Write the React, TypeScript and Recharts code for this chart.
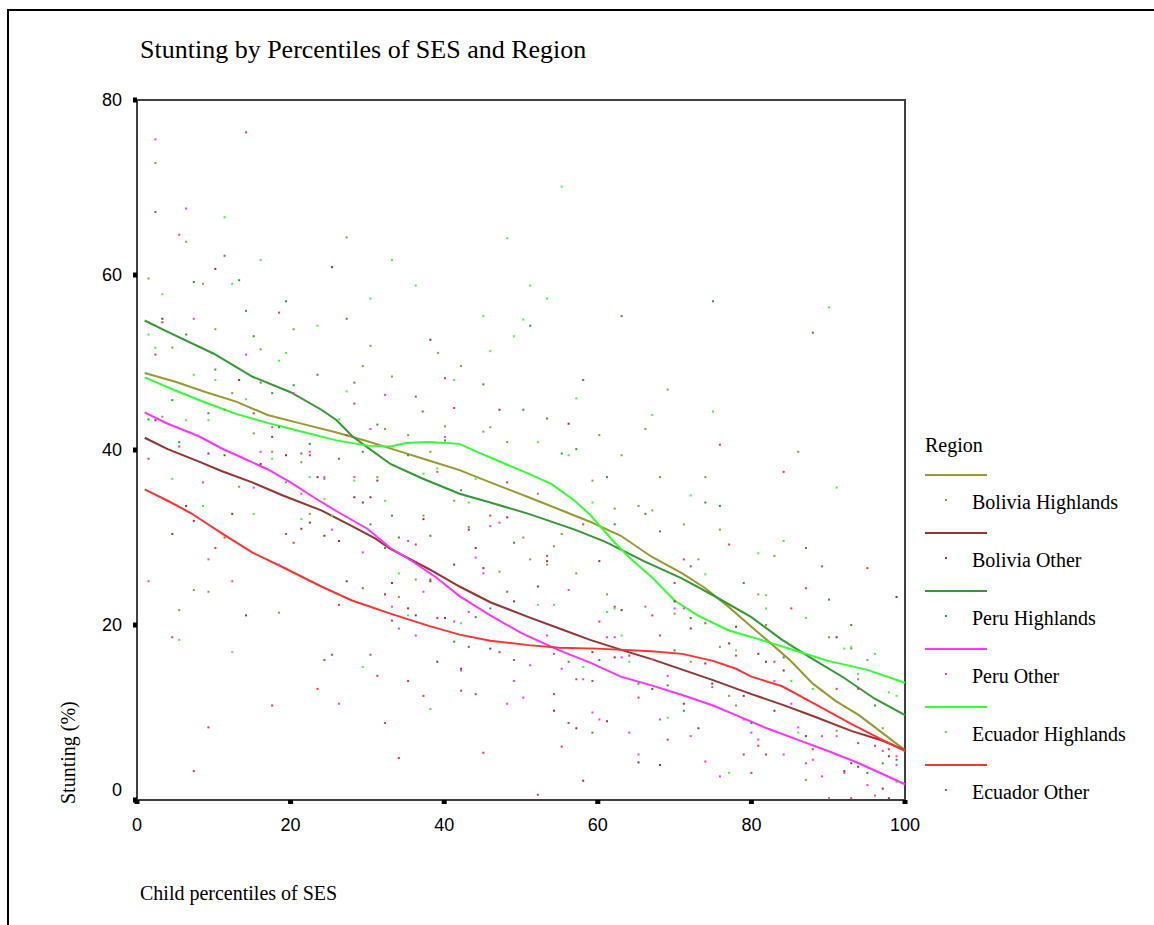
import {
  ComposedChart,
  Line,
  Scatter,
  XAxis,
  YAxis,
  ReferenceArea,
} from "recharts";

// smoothed (fit) lines, [percentile, stunting %]
const boliviaHighLine = [[1,48.8],[5,47.8],[9,46.6],[13,45.5],[17,44],[21,43.1],[26,42],[30,41],[34,39.9],[38,38.8],[42,37.7],[46,36.3],[51,34.6],[55,33.2],[59,31.8],[63,30.2],[67,27.8],[71,25.9],[74,24.2],[77,22.1],[80,19.8],[82,18.3],[85,16],[88,13.3],[91,11.3],[94,9.7],[97,7.7],[100,5.7]];
const boliviaOtherLine = [[1,41.4],[4,40.1],[8,38.7],[11,37.6],[15,36.3],[19,34.8],[24,33.1],[28,31.3],[31,29.9],[33,28.7],[38,26.4],[42,24.4],[46,22.6],[51,20.9],[55,19.6],[59,18.3],[64,16.9],[67,16.1],[71,14.9],[75,13.7],[80,12.1],[84,10.9],[88,9.6],[93,7.9],[97,6.8],[100,5.7]];
const peruHighLine = [[1,54.8],[4,53.5],[10,51],[15,48.4],[20,46.6],[24,44.6],[26,43.4],[28,41.6],[30,40.3],[33,38.4],[37,36.8],[42,35],[46,34],[51,32.7],[57,30.9],[61,29.5],[66,27.3],[71,25.3],[75,23.4],[80,20.9],[84,18.3],[88,16.1],[92,14],[96,11.6],[100,9.7]];
const peruOtherLine = [[1,44.3],[4,43],[8,41.6],[11,40.2],[14,39],[17,37.8],[20,36.3],[23,34.6],[26,33],[30,31],[33,28.8],[36,27.2],[39,25.4],[42,23.3],[46,21.1],[50,19.1],[55,17.1],[59,15.7],[63,14.1],[67,13.1],[71,12],[75,10.8],[78,9.7],[82,8.2],[86,6.9],[90,5.6],[94,4.2],[97,3],[100,1.8]];
const ecuadorHighLine = [[1,48.3],[5,46.8],[9,45.4],[13,44.1],[17,43.1],[21,42.2],[26,41.1],[30,40.5],[33,40.4],[35,40.8],[38,40.9],[42,40.7],[44,39.9],[48,38.4],[51,37.3],[54,36.1],[57,34.2],[59,32.6],[62,29.6],[64,27.8],[67,25.5],[70,22.8],[73,21.1],[77,19.4],[82,18.1],[86,17],[90,15.9],[95,14.9],[100,13.4]];
const ecuadorOtherLine = [[1,35.5],[4,34.2],[7,32.8],[11,30.5],[15,28.3],[19,26.6],[24,24.4],[28,22.8],[33,21.3],[38,19.9],[42,18.9],[46,18.2],[51,17.7],[55,17.4],[60,17.3],[67,17],[71,16.7],[75,15.9],[78,15],[80,14.1],[84,13],[88,11.1],[93,8.7],[97,6.9],[100,5.6]];

// observed points
const boliviaHighDots = [[2.4,72.8],[6.4,63.8],[27.3,64.3],[1.5,59.6],[8.6,59.0],[10.2,53.8],[20.4,53.8],[4.6,51.7],[16.1,51.5],[30.4,51.9],[29.4,49.6],[33.2,48.4],[12.4,46.5],[11.4,44.6],[3.3,43.8],[32.3,42.4],[15.2,41.9],[39.2,51.1],[42.2,49.6],[35.3,41.7],[40.1,42.7],[45.1,42.1],[46.0,42.6],[48.2,40.9],[60.2,41.7],[66.2,42.4],[69.1,46.9],[17.6,39.8],[21.4,38.6],[13.3,35.8],[19.4,36.3],[24.4,36.7],[31.3,36.9],[22.5,32.7],[7.4,24.0],[9.3,23.8],[5.5,21.7],[18.5,21.4],[38.2,39.8],[63.1,39.4],[59.3,36.5],[52.2,35.0],[41.3,34.2],[62.2,33.3],[65.3,33.6],[37.3,32.5],[43.2,31.2],[50.3,30.0],[55.3,30.4],[54.3,29.0],[51.2,27.5],[53.4,26.9],[47.2,26.1],[57.2,25.9],[36.3,25.2],[61.2,23.5],[34.1,23.2],[86.1,39.8],[68.1,36.9],[74.0,36.9],[67.1,33.1],[71.2,31.5],[75.9,30.9],[83.0,27.9],[73.1,27.5],[80.9,23.5],[70.0,21.3],[81.9,20.0],[90.1,18.6],[75.9,17.5],[93.0,17.3],[72.1,15.8],[95.1,16.0],[93.9,13.8],[89.2,12.5],[77.1,11.9],[78.0,10.8],[91.1,7.9],[97.1,8.2],[87.1,2.3],[98.9,2.1]];
const boliviaOtherDots = [[25.4,60.9],[10.2,60.7],[3.3,55.0],[13.3,48.0],[2.4,43.4],[17.6,41.5],[38.2,52.6],[47.2,44.6],[56.2,43.0],[9.3,39.6],[11.4,39.4],[19.4,39.4],[16.1,38.4],[23.5,36.9],[31.3,36.5],[6.4,33.6],[12.4,32.7],[28.3,34.6],[29.4,34.0],[30.4,34.6],[7.4,31.9],[4.6,30.4],[21.4,31.0],[22.5,31.7],[24.4,30.2],[26.3,29.6],[27.3,25.0],[32.3,23.5],[33.2,24.8],[14.2,21.1],[37.3,32.1],[48.2,32.3],[43.2,30.9],[44.1,28.8],[53.4,27.3],[60.2,27.3],[41.3,26.9],[45.1,26.5],[38.2,25.0],[52.2,24.4],[49.1,22.7],[63.1,21.7],[35.3,21.9],[36.3,21.1],[40.1,20.8],[46.0,17.3],[59.3,16.9],[62.2,16.3],[39.1,15.8],[42.2,15.0],[54.3,10.2],[61.2,9.0],[57.2,8.2],[65.3,4.3],[58.1,2.2],[98.9,23.2],[70.0,22.7],[78.0,19.8],[72.1,19.6],[91.1,18.6],[77.1,17.9],[80.9,16.7],[74.0,15.6],[81.9,15.8],[84.2,14.8],[74.9,13.3],[67.1,12.7],[79.0,11.9],[71.2,11.0],[83.0,10.2],[73.1,8.2],[87.1,7.3],[97.9,5.0],[68.1,4.0],[93.0,4.2],[93.9,3.8],[92.1,3.3],[97.1,1.3],[97.9,0.2]];
const peruHighDots = [[2.4,67.2],[11.4,62.2],[7.4,59.2],[13.3,59.4],[19.4,57.0],[14.2,55.9],[27.3,55.0],[6.4,53.2],[15.2,53.0],[10.2,49.2],[23.5,48.6],[28.3,47.7],[16.1,47.7],[20.4,47.4],[17.6,46.5],[4.6,45.7],[9.3,44.2],[1.5,43.5],[31.3,42.9],[18.5,42.6],[5.5,40.9],[22.5,40.7],[51.2,54.2],[63.1,55.3],[45.1,47.5],[58.1,48.0],[36.3,46.1],[37.2,44.4],[50.3,44.6],[53.4,43.6],[40.1,41.1],[57.2,40.1],[75.0,57.0],[88.0,53.4],[21.4,39.6],[26.3,39.0],[29.4,39.8],[33.2,32.5],[30.4,31.5],[32.3,28.8],[35.3,39.4],[55.3,39.6],[61.2,36.9],[42.2,35.4],[66.2,32.7],[62.2,31.5],[34.1,30.0],[38.2,30.2],[49.1,29.4],[48.2,23.8],[46.0,21.9],[44.1,20.9],[41.3,18.1],[60.2,16.0],[56.2,15.8],[65.3,13.3],[59.3,7.7],[74.0,34.0],[75.9,33.6],[68.1,30.7],[87.1,28.8],[89.2,26.7],[79.0,24.8],[90.1,22.9],[72.1,20.8],[93.0,20.0],[70.0,17.1],[84.2,16.3],[69.1,13.1],[96.1,10.8],[71.2,10.2],[80.0,8.8],[93.9,6.5],[98.9,4.6],[97.1,4.2],[95.1,3.1]];
const peruOtherDots = [[2.4,75.5],[6.4,67.6],[5.5,64.6],[7.4,55.0],[14.2,50.9],[20.4,46.5],[32.3,46.3],[30.4,42.4],[17.6,42.6],[40.1,41.5],[16.1,39.8],[22.5,39.8],[8.6,36.3],[15.2,35.7],[21.4,35.0],[24.4,36.9],[28.3,36.9],[25.4,30.9],[29.4,28.3],[9.3,27.5],[18.5,26.9],[1.5,25.0],[12.4,25.0],[33.2,22.1],[26.3,11.0],[39.1,37.5],[47.2,31.7],[46.0,31.3],[35.3,29.6],[44.1,27.7],[45.1,25.9],[56.2,24.0],[37.3,23.8],[66.2,22.1],[43.2,21.5],[41.3,20.4],[34.1,19.6],[36.3,18.8],[53.4,18.8],[61.2,18.6],[62.2,18.6],[54.3,16.7],[63.1,16.3],[51.2,15.4],[42.2,14.8],[55.3,15.0],[58.1,13.8],[49.1,13.6],[50.3,11.7],[48.2,11.0],[59.3,10.0],[60.2,9.2],[64.1,7.7],[65.3,5.2],[70.0,21.9],[71.2,21.9],[67.1,16.1],[69.1,14.2],[74.9,12.9],[83.0,13.6],[85.2,11.0],[68.1,9.2],[79.0,9.2],[86.1,8.3],[72.1,7.3],[80.0,7.7],[89.2,7.3],[91.1,7.3],[80.9,6.9],[84.2,5.2],[97.1,5.6],[98.9,5.0],[74.0,4.4],[88.0,4.6],[87.1,4.2],[98.9,4.0],[92.1,3.1],[75.9,2.7],[89.2,2.7],[95.1,1.7],[90.1,0.2],[96.1,0.5]];
const ecuadorHighDots = [[11.4,66.6],[16.1,61.7],[33.2,61.7],[12.4,59.0],[3.3,57.8],[30.4,57.3],[23.5,54.2],[1.5,53.2],[2.4,51.7],[19.4,51.1],[18.5,50.2],[7.4,48.6],[10.2,48.0],[14.2,45.8],[27.3,46.7],[6.4,43.4],[9.3,43.4],[26.3,43.5],[55.3,70.1],[48.2,64.2],[36.3,58.8],[51.2,58.8],[53.4,57.3],[45.1,55.3],[50.3,54.9],[49.1,53.0],[46.0,51.3],[41.3,48.0],[57.2,45.9],[52.2,40.9],[90.1,56.3],[67.1,44.0],[75.0,44.4],[17.6,39.0],[4.6,36.7],[22.5,36.9],[28.3,36.5],[8.6,33.6],[15.2,32.7],[24.4,34.4],[32.3,34.2],[21.4,32.1],[25.4,32.5],[5.5,18.3],[12.4,16.9],[29.4,15.2],[56.2,39.4],[37.3,37.3],[39.1,37.9],[44.1,36.7],[43.2,34.0],[59.3,34.0],[34.1,25.9],[52.2,22.3],[54.3,22.3],[62.2,21.9],[61.2,21.5],[35.3,21.1],[42.2,20.2],[63.1,18.8],[64.1,15.8],[58.1,15.2],[38.2,10.4],[72.1,34.8],[91.1,35.7],[84.2,29.6],[80.9,28.2],[74.0,25.8],[81.9,23.4],[81.9,21.9],[87.1,20.8],[78.0,17.1],[92.1,17.3],[93.0,17.5],[96.1,16.7],[93.9,14.4],[85.2,13.6],[88.0,12.7],[97.9,12.3],[98.9,11.9],[69.1,9.4],[86.1,7.7],[77.1,3.1]];
const ecuadorOtherDots = [[14.2,76.3],[18.5,55.7],[3.3,54.6],[2.4,50.9],[28.3,45.3],[15.2,44.2],[27.3,41.7],[5.5,40.4],[40.1,48.2],[41.3,44.8],[75.9,40.6],[1.5,39.0],[22.5,39.4],[11.4,30.0],[10.2,28.8],[19.4,30.4],[20.4,29.4],[29.4,24.2],[26.3,22.3],[33.2,20.5],[4.6,18.6],[24.4,16.0],[25.4,16.6],[30.4,16.6],[31.3,14.2],[23.5,12.7],[17.6,10.8],[32.3,8.8],[9.3,8.3],[7.4,3.3],[48.2,36.3],[46.0,32.5],[58.1,31.5],[36.3,29.2],[53.4,27.9],[38.2,25.2],[62.2,22.1],[39.1,20.8],[60.2,20.4],[43.2,17.5],[47.2,16.9],[64.1,16.5],[49.1,16.0],[57.2,13.8],[59.3,13.6],[35.3,13.6],[42.2,12.5],[44.1,12.1],[37.3,11.9],[54.3,12.1],[65.3,11.7],[56.2,8.8],[55.3,6.1],[45.1,5.4],[34.1,4.8],[52.2,0.6],[84.2,37.5],[77.1,29.2],[71.2,27.5],[72.1,26.7],[95.1,26.5],[70.0,24.8],[87.1,24.2],[85.2,21.9],[67.1,21.1],[74.0,20.2],[68.1,18.8],[78.0,16.5],[83.0,15.8],[91.1,12.7],[93.9,12.7],[69.1,6.9],[80.9,6.2],[96.1,6.2],[88.0,5.8],[81.9,5.2],[79.0,5.2],[97.9,5.8],[80.0,3.1],[93.0,0.2]];

const regions = ["Bolivia Highlands", "Bolivia Other", "Peru Highlands", "Peru Other", "Ecuador Highlands", "Ecuador Other"];
const regionColors = ["#999933", "#993333", "#339933", "#FF33FF", "#33FF33", "#FF3333"];
const regionLines = [boliviaHighLine, boliviaOtherLine, peruHighLine, peruOtherLine, ecuadorHighLine, ecuadorOtherLine];
const regionDots = [boliviaHighDots, boliviaOtherDots, peruHighDots, peruOtherDots, ecuadorHighDots, ecuadorOtherDots];

const xTicks = [0, 20, 40, 60, 80, 100];
const yTicks = [0, 20, 40, 60, 80];

const serif = "'Liberation Serif', 'Times New Roman', serif";
const sans = "'Liberation Sans', Arial, sans-serif";

const toPoints = (rows: number[][]) => rows.map(([x, y]) => ({ x, y }));

const DotShape = (props: any) => {
  const { cx, cy, fill } = props;
  if (cx == null || cy == null) return null;
  return <rect x={cx - 1} y={cy - 1} width={2} height={2} fill={fill} />;
};

// SPSS nudges the "0" label up off the corner
const YTick = ({ x, y, payload }: any) => (
  <text
    x={x}
    y={payload.value === 0 ? y - 10 : y}
    textAnchor="end"
    dominantBaseline="central"
    fill="#000"
    fontSize={18}
    fontFamily={sans}
  >
    {payload.value}
  </text>
);

const LEGEND_STEP = 58;

function RegionLegend() {
  return (
    <div style={{ position: "absolute", left: 0, top: 0, fontFamily: serif, color: "#000" }}>
      <div style={{ position: "absolute", left: 925, top: 433, fontSize: 20, lineHeight: "24px", whiteSpace: "nowrap" }}>
        Region
      </div>
      {regions.map((name, i) => {
        const off = i * LEGEND_STEP;
        return (
          <div key={name}>
            <div style={{ position: "absolute", left: 925, top: 474 + off, width: 62, height: 2, background: regionColors[i] }} />
            <div style={{ position: "absolute", left: 945, top: 499 + off, width: 2, height: 2, background: regionColors[i] }} />
            <div style={{ position: "absolute", left: 972, top: 490 + off, fontSize: 20, lineHeight: "24px", whiteSpace: "nowrap" }}>
              {name}
            </div>
          </div>
        );
      })}
    </div>
  );
}

export default function App() {
  return (
    <div style={{ position: "absolute", left: 0, top: 0, width: 1154, height: 925, overflow: "hidden", background: "#fff" }}>
      <div style={{ position: "absolute", left: 7, top: 9, width: 1200, height: 1000, borderLeft: "2px solid #000", borderTop: "2px solid #000" }} />
      <div style={{ position: "absolute", left: 140, top: 34, fontFamily: serif, fontSize: 26, lineHeight: "32px", whiteSpace: "nowrap" }}>
        Stunting by Percentiles of SES and Region
      </div>
      <div style={{ position: "absolute", left: 0, top: 0 }}>
        <ComposedChart width={1154} height={925} margin={{ top: 100, right: 249, bottom: 85, left: 87 }}>
          <XAxis
            dataKey="x"
            type="number"
            domain={[0, 100]}
            ticks={xTicks}
            height={40}
            axisLine={{ stroke: "#404040", strokeWidth: 2 }}
            tickLine={{ stroke: "#000", strokeWidth: 5 }}
            tickSize={4}
            tickMargin={14}
            tick={{ fill: "#000", fontSize: 18, fontFamily: sans }}
          />
          <YAxis
            dataKey="y"
            type="number"
            domain={[0, 80]}
            ticks={yTicks}
            width={50}
            axisLine={{ stroke: "#404040", strokeWidth: 2 }}
            tickLine={{ stroke: "#000", strokeWidth: 5 }}
            tickSize={4}
            tickMargin={11}
            tick={<YTick />}
          />
          <ReferenceArea x1={0} x2={100} y1={0} y2={80} fill="none" stroke="#404040" strokeWidth={2} />
          {regions.map((name, i) => (
            <Scatter
              key={`dots-${name}`}
              name={name}
              data={toPoints(regionDots[i])}
              fill={regionColors[i]}
              shape={<DotShape />}
              isAnimationActive={false}
            />
          ))}
          {regions.map((name, i) => (
            <Line
              key={`line-${name}`}
              name={name}
              data={toPoints(regionLines[i])}
              dataKey="y"
              type="linear"
              stroke={regionColors[i]}
              strokeWidth={2}
              dot={false}
              activeDot={false}
              legendType="none"
              isAnimationActive={false}
            />
          ))}
        </ComposedChart>
      </div>
      <div
        style={{
          position: "absolute",
          left: 56,
          top: 804,
          transform: "rotate(-90deg)",
          transformOrigin: "0 0",
          fontFamily: serif,
          fontSize: 20,
          lineHeight: "24px",
          whiteSpace: "nowrap",
        }}
      >
        Stunting (%)
      </div>
      <div style={{ position: "absolute", left: 140, top: 881, fontFamily: serif, fontSize: 20, lineHeight: "24px", whiteSpace: "nowrap" }}>
        Child percentiles of SES
      </div>
      <RegionLegend />
    </div>
  );
}
